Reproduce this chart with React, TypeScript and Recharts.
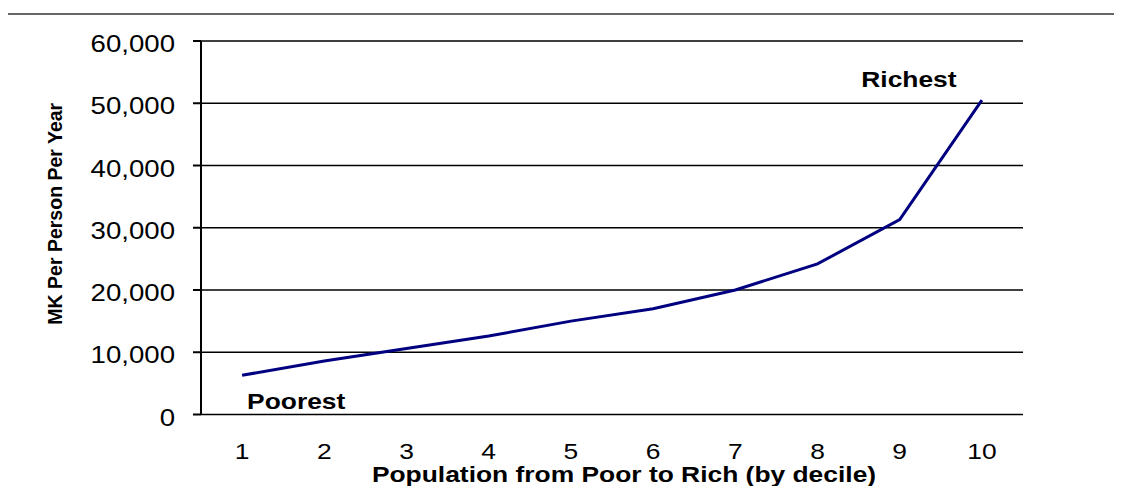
import { LineChart, Line, XAxis, YAxis, CartesianGrid, LabelList, Label } from "recharts"

const deciles = [1, 2, 3, 4, 5, 6, 7, 8, 9, 10]
const income = [6300, 8600, 10600, 12600, 15000, 17000, 20000, 24200, 31300, 50500]
const notes = ["Poorest", "", "", "", "", "", "", "", "", "Richest"]
const yTicks = [0, 10000, 20000, 30000, 40000, 50000, 60000]
const bandEdges = [0.5, 1.5, 2.5, 3.5, 4.5, 5.5, 6.5, 7.5, 8.5, 9.5, 10.5]

const data = deciles.map((d, i) => ({ decile: d, income: income[i], note: notes[i] }))

const FONT = "'Liberation Sans', Arial, sans-serif"
const STRETCH = 1.2

const YTick = ({ x, y, payload }: any) => (
  <g transform={`translate(${x},${y}) scale(${STRETCH},1)`}>
    <text x={0} y={0} dy={11} textAnchor="end" fontFamily={FONT} fontSize={23} fill="#000">
      {Number(payload.value).toLocaleString("en-US")}
    </text>
  </g>
)

const XTick = ({ x, y, payload }: any) => (
  <g transform={`translate(${x},${y}) scale(${STRETCH},1)`}>
    <text x={0} y={0} dy="0.32em" textAnchor="middle" fontFamily={FONT} fontSize={22} fill="#000">
      {payload.value}
    </text>
  </g>
)

const NoteLabel = ({ x, y, value, index }: any) => {
  if (!value) return null
  const first = index === 0
  const tx = first ? x + 5 : x - 73
  const ty = first ? y + 34 : y - 13
  return (
    <g transform={`translate(${tx},${ty}) scale(${STRETCH},1)`}>
      <text x={0} y={0} textAnchor={first ? "start" : "middle"} fontFamily={FONT}
        fontSize={22} fontWeight="bold" fill="#000">{value}</text>
    </g>
  )
}

const XTitle = ({ viewBox }: any) => {
  const cx = viewBox.x + viewBox.width / 2 + 12
  const ty = viewBox.y + 67
  return (
    <g transform={`translate(${cx},${ty}) scale(${STRETCH},1)`}>
      <text x={0} y={0} textAnchor="middle" fontFamily={FONT} fontSize={22} fontWeight="bold" fill="#000">
        Population from Poor to Rich (by decile)
      </text>
    </g>
  )
}

const YTitle = ({ viewBox }: any) => {
  const cx = viewBox.x + 14
  const cy = viewBox.y + viewBox.height / 2 - 14
  return (
    <text x={cx} y={cy} transform={`rotate(-90, ${cx}, ${cy})`} textAnchor="middle"
      dominantBaseline="central" fontFamily={FONT} fontSize={19.5} fontWeight="bold" fill="#000">
      MK Per Person Per Year
    </text>
  )
}

// frame around the chart, only the left and top edges fall inside the picture
const Frame = () => (
  <path d="M7,494 V14 H1122" fill="none" stroke="#666" strokeWidth={2} />
)

export default function App() {
  return (
    <div style={{ margin: -8, width: 1122, height: 494, position: "relative", overflow: "hidden", background: "#fff" }}>
      <LineChart width={1122} height={494} data={data}
        margin={{ top: 41, right: 99, left: 41, bottom: 1 }}>
        <Frame />
        <CartesianGrid xAxisId="labels" vertical={false} stroke="#000" strokeWidth={1.5} />
        <XAxis xAxisId="marks" dataKey="decile" type="number" domain={[0.5, 10.5]}
          ticks={bandEdges} height={0} tick={false} tickSize={7}
          axisLine={{ stroke: "#000", strokeWidth: 2 }} tickLine={{ stroke: "#000", strokeWidth: 2 }} />
        <XAxis xAxisId="labels" dataKey="decile" type="number" domain={[0.5, 10.5]}
          ticks={deciles} height={78.5} axisLine={false} tickLine={false}
          tickSize={0} tickMargin={37} tick={<XTick />} interval={0}>
          <Label content={<XTitle />} />
        </XAxis>
        <YAxis domain={[0, 60000]} ticks={yTicks} width={160} tickSize={8} tickMargin={18}
          tick={<YTick />} interval={0}
          axisLine={{ stroke: "#000", strokeWidth: 2 }} tickLine={{ stroke: "#000", strokeWidth: 2 }}>
          <Label content={<YTitle />} />
        </YAxis>
        <Line xAxisId="labels" type="linear" dataKey="income" stroke="#000080" strokeWidth={3}
          dot={false} activeDot={false} isAnimationActive={false}>
          <LabelList dataKey="note" content={<NoteLabel />} />
        </Line>
      </LineChart>
    </div>
  )
}
